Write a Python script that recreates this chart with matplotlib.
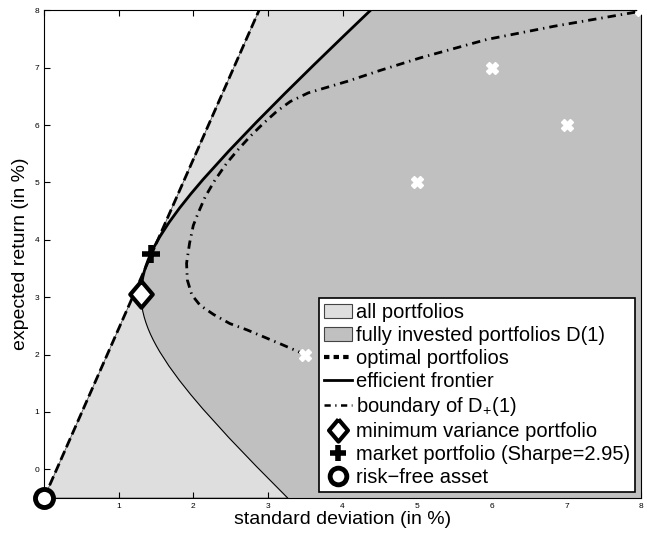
import matplotlib
matplotlib.use('Agg')
import matplotlib.pyplot as plt
from matplotlib.patches import Patch
from matplotlib.lines import Line2D

plt.rcParams['font.family'] = ['Liberation Sans', 'DejaVu Sans']
plt.rcParams['mathtext.default'] = 'regular'

# frontier of fully invested portfolios D(1) (sd, mean in %)
front_mu = [-0.5, 0.05, 0.55, 1.05, 1.30, 1.55, 1.80, 2.05, 2.15, 2.25, 2.35, 2.45, 2.55,
            2.65, 2.75, 2.85, 2.95, 3.05,
            3.15, 3.25, 3.35, 3.45, 3.55, 3.65, 3.75, 3.85, 3.95, 4.05, 4.30, 4.55,
            4.80, 5.05, 5.55, 6.05, 6.55, 7.05, 7.55, 8.0]
front_sd = [3.265, 2.846, 2.478, 2.130, 1.967, 1.814, 1.674, 1.550, 1.506, 1.465, 1.428,
            1.395, 1.367, 1.343, 1.324, 1.311, 1.303, 1.300,
            1.303, 1.311, 1.324, 1.343, 1.367, 1.395, 1.428, 1.465, 1.506, 1.550, 1.674,
            1.814, 1.967, 2.130, 2.478, 2.846, 3.227, 3.617, 4.014, 4.375]
minvar_idx = 17

# boundary of D+(1) (long only)
dplus_sd = [3.51, 3.41, 3.16, 2.94, 2.72, 2.49, 2.27, 2.09, 1.98, 1.92, 1.91, 1.95, 2.00,
            2.06, 2.16, 2.29, 2.45, 2.60, 2.76, 2.94, 3.12, 3.30, 3.54, 4.06, 4.50,
            5.04, 5.93, 6.83, 7.94, 8.0]
dplus_mu = [2.00, 2.05, 2.19, 2.31, 2.43, 2.54, 2.70, 2.86, 3.04, 3.30, 3.59, 3.94, 4.25,
            4.45, 4.75, 5.04, 5.34, 5.57, 5.80, 6.03, 6.24, 6.41, 6.56, 6.76, 6.95,
            7.17, 7.49, 7.72, 7.97, 8.0]

# single assets
asset_sd = [3.5, 5, 6, 7, 8]
asset_mu = [2, 5, 7, 6, 8]

rf = (0.0, -0.5)
minvar = (1.30, 3.05)
market = (1.43, 3.75)
sharpe = 2.95

xmin, xmax, ymin, ymax = 0, 8, -0.5, 8

light = '#dedede'
dark = '#c0c0c0'
diamond = [(0, 1), (0.85, 0), (0, -1), (-0.85, 0), (0, 1)]

fig = plt.figure(figsize=(6.47, 5.39), dpi=100)
ax = fig.add_axes([0.068, 0.076, 0.923, 0.905])

# all portfolios: everything right of the capital market line
top_x = rf[0] + (ymax - rf[1]) / sharpe
ax.fill([rf[0], top_x, xmax, xmax], [rf[1], ymax, ymax, ymin], color=light, lw=0.6, ec='#555555', zorder=1)

# fully invested portfolios
ax.fill(front_sd + [xmax, xmax], front_mu + [ymax, ymin], color=dark, lw=0, zorder=2)

# lower (inefficient) branch
ax.plot(front_sd[:minvar_idx + 1], front_mu[:minvar_idx + 1], color='k', lw=0.8, zorder=3)
# efficient frontier
ax.plot(front_sd[minvar_idx:], front_mu[minvar_idx:], color='k', lw=2, zorder=4)
# optimal portfolios
ax.plot([rf[0], top_x], [rf[1], ymax], color='k', lw=2, ls=(0, (3.5, 1.5)), zorder=4)
# boundary of D+(1)
ax.plot(dplus_sd, dplus_mu, color='k', lw=2, ls=(0, (3, 1.8, 0.5, 1.8)), zorder=4)

ax.plot(asset_sd, asset_mu, ls='none', marker='X', ms=9, mfc='white', mec='white', zorder=5, clip_on=False)

ax.plot(*minvar, marker=diamond, ms=19, mfc='white', mec='k', mew=3, zorder=6)
ax.plot(*market, marker='+', ms=13, mec='k', mew=4, zorder=6)
ax.plot(*rf, marker='o', ms=13, mfc='white', mec='k', mew=3.5, zorder=7, clip_on=False)

ax.set_xlim(xmin, xmax)
ax.set_ylim(ymin, ymax)
ax.set_xticks(range(0, 9))
ax.set_yticks(range(0, 9))
ax.tick_params(direction='in', labelsize=6, top=True, right=True, length=4)
ax.set_xlabel('standard deviation (in %)', fontsize=14, labelpad=1)
ax.set_ylabel('expected return (in %)', fontsize=14, labelpad=4)

handles = [
    Patch(facecolor=light, edgecolor='#444444', lw=0.8),
    Patch(facecolor=dark, edgecolor='#444444', lw=0.8),
    Line2D([], [], color='k', lw=3, ls=(0, (1.3, 1))),
    Line2D([], [], color='k', lw=2),
    Line2D([], [], color='k', lw=1.8, ls=(0, (2.5, 1.8, 0.5, 1.8))),
    Line2D([], [], ls='none', marker=diamond, ms=16, mfc='white', mec='k', mew=3),
    Line2D([], [], ls='none', marker='+', ms=12, mec='k', mew=4),
    Line2D([], [], ls='none', marker='o', ms=12, mfc='white', mec='k', mew=3.5),
]
labels = ['all portfolios', 'fully invested portfolios D(1)', 'optimal portfolios',
          'efficient frontier', 'boundary of D$_{+}$(1)', 'minimum variance portfolio',
          'market portfolio (Sharpe=%.2f)' % sharpe, 'risk\u2212free asset']
leg = ax.legend(handles, labels, loc='lower right', fontsize=14.5, fancybox=False,
                framealpha=1, edgecolor='k', borderaxespad=0.3, handlelength=1.4,
                handletextpad=0.2, labelspacing=0.2, borderpad=0.25)
leg.get_frame().set_linewidth(1.2)
leg.set_zorder(10)

fig.savefig('out.png', dpi=100)
